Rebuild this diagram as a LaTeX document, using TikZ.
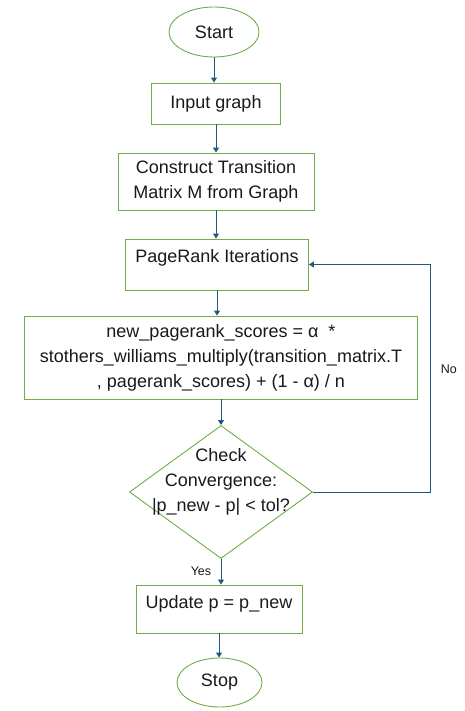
\documentclass[tikz,border=0pt]{standalone}
\usepackage{fontspec}
\setmainfont{Liberation Sans}
\usetikzlibrary{shapes.geometric,arrows.meta}
\definecolor{boxgreen}{RGB}{112,173,71}
\definecolor{arrblue}{RGB}{31,90,125}
\begin{document}
\begin{tikzpicture}[x=1pt,y=-1pt,font=\fontsize{18}{25}\selectfont,text=black!90,
box/.style={draw=boxgreen,line width=0.9pt,align=center,inner sep=2pt},
term/.style={box,ellipse},
arr/.style={draw=arrblue,line width=1pt,-{Triangle[width=6pt,length=5pt]}},
lab/.style={font=\fontsize{12.5}{15}\selectfont}]
\useasboundingbox(0,0)rectangle(465,711);
\node[term,minimum width=90pt,minimum height=50pt](st)at(214,32){Start};
\node[box,minimum width=129pt,minimum height=41pt](ip)at(216,103.5){Input graph};
\node[box,minimum width=196pt,minimum height=57pt](tm)at(216,181.5){Construct Transition\\Matrix M from Graph};
\node[box,minimum width=183pt,minimum height=51pt,text depth=17pt](it)at(217,264.5){PageRank Iterations};
\node[box,minimum width=393pt,minimum height=83pt](up)at(221,357.5){new\_pagerank\_scores = α\ \ *\\stothers\_williams\_multiply(transition\_matrix.T\\, pagerank\_scores) + (1 - α) / n};
\node[box,diamond,minimum width=183pt,minimum height=133pt,inner sep=0pt,
label={[align=center,yshift=10pt]center:Check\\Convergence:\\|p\_new - p| < tol?}](ck)at(221,492){};
\node[box,minimum width=166pt,minimum height=48pt,text depth=14pt](nw)at(219,609){Update p = p\_new};
\node[term,minimum width=85pt,minimum height=49pt](sp)at(219.5,682.5){Stop};
\draw[arr](st)--(st|-ip.north);
\draw[arr](ip)--(ip|-tm.north);
\draw[arr](tm)--(tm|-it.north);
\draw[arr](it)--(it|-up.north);
\draw[arr](up)--(up|-ck.north);
\draw[arr](ck)--(ck|-nw.north)node[lab,midway,left=6pt]{Yes};
\draw[arr](nw)--(nw|-sp.north);
\draw[arr](ck.east)--++(118,0)|-(it.east)node[lab,pos=0.27,right=6pt]{No};
\end{tikzpicture}
\end{document}
